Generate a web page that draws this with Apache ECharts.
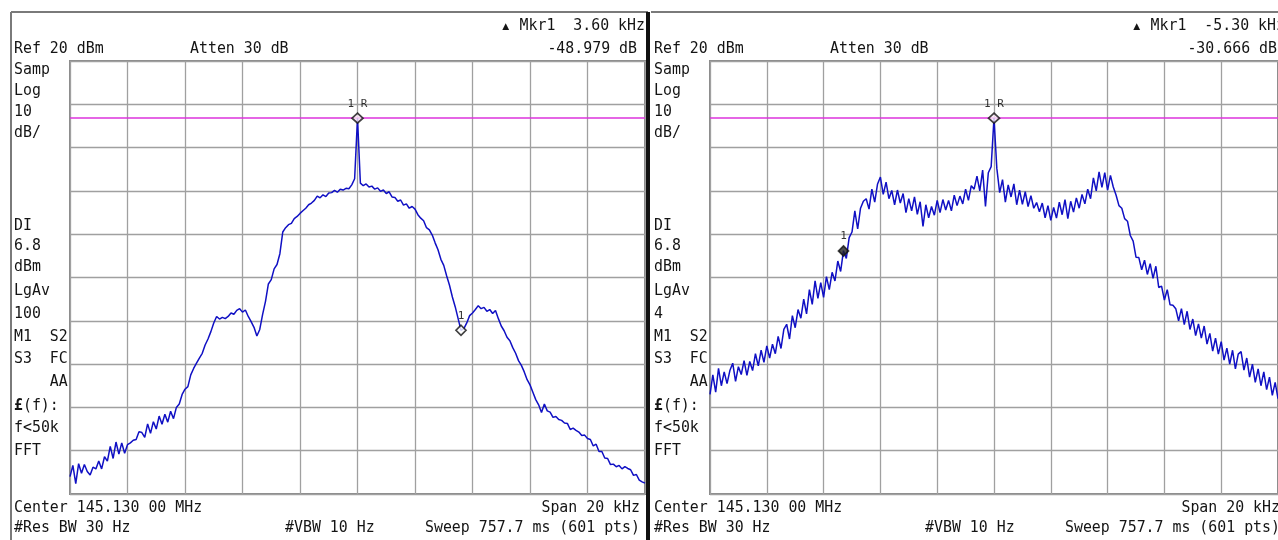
<!DOCTYPE html>
<html>
<head>
<meta charset="utf-8">
<script src="https://cdn.jsdelivr.net/npm/echarts@6/dist/echarts.min.js"></script>
<style>
html,body{margin:0;padding:0;background:#fff;}
#chart{width:1278px;height:540px;}
</style>
</head>
<body>
<div id="chart"></div>
<script>
// ---- data (dBm, 0.1 kHz steps from -10 kHz to +10 kHz) ----
const leftTrace = [
-76,-73.4,-77.6,-73,-75.2,-73.2,-74.8,-75.6,-73.8,-74.2,
-72.4,-74.2,-71.4,-72.4,-69,-71.8,-68,-70.8,-68.2,-70.6,
-68.6,-68.2,-67.6,-67.4,-65.6,-65.8,-66.9,-63.8,-66,-63.3,
-65,-62,-63.9,-61.6,-63.4,-60.9,-62.6,-60,-59.2,-57,
-55.8,-55.2,-52.5,-51,-49.8,-48.6,-47.5,-45.6,-44.2,-42.5,
-40.5,-39,-39.6,-39.2,-39.5,-39,-38.2,-38.5,-37.6,-37.2,
-38,-37.5,-39,-40.2,-41.5,-43.5,-42,-38.5,-35.5,-31.5,
-30.5,-28,-27,-24.5,-19.5,-18.5,-17.8,-17.5,-16.4,-15.9,
-15.2,-14.6,-14,-13.2,-12.8,-12.2,-11.2,-11.6,-10.9,-11.3,
-10.5,-10.4,-9.9,-10.3,-9.6,-9.8,-9.4,-9.5,-8.6,-7.2,
6.8,
-8.2,-8.8,-8.4,-9.1,-8.9,-9.6,-9.3,-10.1,-9.8,-10.6,
-10.2,-11.4,-11.5,-12.4,-12.1,-13.3,-13,-14,-13.6,-14.2,
-15.5,-16.3,-16.9,-18.5,-19,-20.2,-22,-23.6,-25.8,-27.2,
-29.6,-31.8,-34.5,-36.8,-39.5,-42.2,-41.8,-40.5,-38.8,-38.2,
-37.4,-36.5,-37.2,-36.9,-37.8,-37.4,-38.3,-37.6,-39.5,-41.2,
-42.3,-43.8,-44.6,-46.2,-47.5,-49.2,-50.3,-51.8,-53.6,-54.8,
-56.5,-58.2,-59.4,-61.2,-59.2,-60.8,-61.1,-62.3,-62.1,-62.8,
-63,-63.6,-63.7,-65.1,-64.8,-65.3,-65.7,-66.5,-66.4,-67.2,
-67.4,-68.9,-68.5,-70.2,-70.2,-71.7,-71.8,-73.2,-73.1,-73.7,
-73.4,-74.2,-73.7,-74.1,-74.4,-75.7,-75.5,-76.8,-77.2,-77.5
];
const rightTrace = [
-57,-52.5,-56.5,-51,-55,-51.8,-54.5,-51.5,-49.8,-54,
-50.6,-52.4,-49.2,-52.6,-49.4,-51.5,-47.6,-50.4,-46.8,-49.6,
-45.8,-48.6,-45.4,-47.6,-43.6,-46.4,-42,-40.8,-44.2,-38.8,
-41.6,-37.4,-39.4,-35,-38.4,-32.8,-36.2,-30.8,-34.8,-31.2,
-34.6,-29.8,-32.8,-28.8,-30.8,-26.2,-28.6,-23.8,-25.6,-20.8,
-19.5,-14.6,-18.8,-14,-12.4,-11.8,-14.2,-9.6,-12.6,-8.4,
-6.8,-10.8,-8,-11.8,-9.9,-13.2,-9.8,-12.8,-10.6,-15,
-11.8,-14.6,-11.4,-15.4,-12.5,-18.2,-13.2,-16.2,-13.6,-15.6,
-12.2,-15,-12,-14.4,-12.2,-14.6,-11,-13.4,-11.2,-13,
-9.6,-12.2,-8.8,-9.6,-6.6,-10,-5.2,-13.6,-5.8,-4.4,
6.8,
-4.8,-10.4,-7.4,-12.6,-8.6,-11.4,-8.4,-13.2,-9.8,-13.1,
-10.2,-13.6,-11.1,-14,-12.7,-14.8,-12.8,-16.2,-13.4,-16.8,
-13.8,-16.3,-12.6,-15.5,-12,-16.4,-12.4,-14.9,-11.6,-14,
-10.8,-13,-9.6,-11.8,-7,-10,-5.6,-9.2,-5.8,-9.8,
-6.4,-9.1,-11,-13.4,-14,-16.4,-17,-20.3,-21.6,-25.3,
-25.4,-28.2,-26,-29.3,-26.8,-30.2,-27.4,-32.3,-32,-35.2,
-32.8,-36.3,-36.4,-37.2,-40,-37.2,-40.9,-37.8,-42,-39.6,
-43.4,-40.7,-44,-41.2,-45.4,-42.9,-47,-44,-47.7,-44.8,
-49.1,-46.3,-50,-46.8,-51.1,-47.7,-47.1,-51.4,-48.6,-53,
-50,-54.2,-51.1,-55,-51.8,-55.9,-53,-57.2,-54.2,-58
];
const traces = [leftTrace, rightTrace];
const startKHz = -10, stepKHz = 0.1;
const refLevel = 6.8;                 // display line / 1R marker level (dBm)
const markerKHz = [3.60, -5.30];
const markerDelta = [-48.979, -30.666];
const mkrFreqText = ['3.60 kHz', '-5.30 kHz'];
const mkrDeltaText = ['-48.979 dB', '-30.666 dB'];
const avgCount = ['100', '4'];
const markerFilled = [false, true];

// ---- layout ----
const PANEL_DX = 640;
const FONT = '16px "DejaVu Sans Mono"';
const SX = 0.93;
const CW = 16 * 0.602 * SX;
const TXT = '#141414';
const chart = echarts.init(document.getElementById('chart'), null, {renderer:'canvas'});

function txt(x, y, s, align, font, color, sx) {
  return {type:'text', x:x, y:y, scaleX:(sx===undefined?SX:sx), z:100, silent:true,
    style:{text:s, font:font||FONT, fill:color||TXT,
      align:align||'left', verticalAlign:'middle', textAlign:align||'left', textVerticalAlign:'middle'}};
}

const grids = [], xAxes = [], yAxes = [], series = [], graphic = [];
for (let p = 0; p < 2; p++) {
  const dx = p * PANEL_DX;
  grids.push({left:70+dx, top:61, width:575, height:433, show:true,
    borderColor:'#8a8a8a', borderWidth:2, backgroundColor:'#fff', containLabel:false});
  xAxes.push({gridIndex:p, type:'value', min:-10, max:10, interval:2,
    axisLine:{show:false}, axisTick:{show:false}, axisLabel:{show:false},
    splitLine:{show:true, lineStyle:{color:'#a0a0a0', width:1.3}}});
  yAxes.push({gridIndex:p, type:'value', min:-80, max:20, interval:10,
    axisLine:{show:false}, axisTick:{show:false}, axisLabel:{show:false},
    splitLine:{show:true, lineStyle:{color:'#a0a0a0', width:1.3}}});
  const data = traces[p].map((v, i) => [startKHz + i * stepKHz, v]);
  series.push({type:'line', xAxisIndex:p, yAxisIndex:p, data:data, symbol:'none',
    lineStyle:{color:'#1010c4', width:1.5}, clip:true, z:5,
    markLine:{silent:true, symbol:'none', label:{show:false},
      lineStyle:{color:'#dd33dd', width:1.5, type:'solid'},
      data:[{yAxis:refLevel}], z:4}});
  // markers
  series.push({type:'scatter', xAxisIndex:p, yAxisIndex:p, z:10, symbol:'diamond',
    data:[
      {value:[0, refLevel], symbolSize:[11,10],
        itemStyle:{color:'#fbe8f6', borderColor:'#111', borderWidth:1.7},
        label:{show:true, formatter:'1 R', position:'top', distance:3,
          fontFamily:'DejaVu Sans Mono', fontSize:11, color:'#000'}},
      {value:[markerKHz[p], refLevel + markerDelta[p]], symbolSize:[10,10],
        itemStyle:{color: markerFilled[p] ? '#222' : '#fff', borderColor:'#111', borderWidth:1.7},
        label:{show:true, formatter:'1', position:'top', distance:3,
          fontFamily:'DejaVu Sans Mono', fontSize:11, color:'#000'}}
    ]});

  // panel frame
  graphic.push({type:'line', silent:true, z:50, shape:{x1:11+dx, y1:12, x2:648+dx, y2:12},
    style:{stroke:'#7a7a7a', lineWidth:2}});
  if (p === 0) {
    graphic.push({type:'line', silent:true, z:50, shape:{x1:11, y1:12, x2:11, y2:540},
      style:{stroke:'#7a7a7a', lineWidth:2}});
  }
  // header texts
  const mkrStr = 'Mkr1  ' + mkrFreqText[p];
  graphic.push(txt(14+dx, 49, 'Ref 20 dBm'));
  graphic.push(txt(190+dx, 49, 'Atten 30 dB'));
  graphic.push(txt(645+dx, 26, mkrStr, 'right'));
  graphic.push(txt(645+dx - mkrStr.length*CW - 14, 27, '\u25B2', 'center', '9px "DejaVu Sans"', TXT, 1));
  graphic.push(txt(637+dx, 49, mkrDeltaText[p], 'right'));
  // left column
  const col = [['Samp',70],['Log',91],['10',112],['dB/',133],
    ['DI',226],['6.8',246],['dBm',267],['LgAv',291],[avgCount[p],314],
    ['M1  S2',337],['S3  FC',359],['    AA',382],['f<50k',428],['FFT',451]];
  col.forEach(c => graphic.push(txt(14+dx, c[1], c[0])));
  graphic.push(txt(14+dx, 406, '\u00A3', 'left', 'bold 16px "DejaVu Sans Mono"'));
  graphic.push(txt(14+CW+dx, 406, '(f):'));
  // footer
  graphic.push(txt(14+dx, 508, 'Center 145.130 00 MHz'));
  graphic.push(txt(640+dx, 508, 'Span 20 kHz', 'right'));
  graphic.push(txt(14+dx, 528, '#Res BW 30 Hz'));
  graphic.push(txt(285+dx, 528, '#VBW 10 Hz'));
  graphic.push(txt(640+dx, 528, 'Sweep 757.7 ms (601 pts)', 'right'));
}
// separator between panels
graphic.push({type:'rect', silent:true, z:60, shape:{x:646, y:12, width:4, height:528},
  style:{fill:'#111'}});

chart.setOption({
  animation:false,
  backgroundColor:'#fff',
  grid:grids, xAxis:xAxes, yAxis:yAxes, series:series, graphic:graphic
});
</script>
</body>
</html>
